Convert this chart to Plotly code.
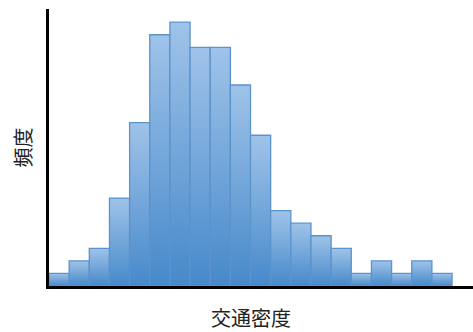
import plotly.graph_objects as go

# Histogram of traffic density: frequency per bin
bin_index = list(range(20))
frequency = [1, 2, 3, 7, 13, 20, 21, 19, 19, 16, 12, 6, 5, 4, 3, 1, 2, 1, 2, 1]

x_title = "交通密度"
y_title = "頻度"

bar_top = "#9fc3e9"
bar_bottom = "#4689ca"
bar_edge = "#5b93cd"

fig = go.Figure()

# each bin drawn as its own filled rectangle so it gets its own vertical gradient
for i, f in zip(bin_index, frequency):
    fig.add_trace(go.Scatter(
        x=[i, i, i + 1, i + 1, i],
        y=[0, f, f, 0, 0],
        mode="lines",
        fill="toself",
        fillgradient=dict(type="vertical",
                          colorscale=[[0, bar_bottom], [1, bar_top]]),
        line=dict(color=bar_edge, width=1.3),
        hoverinfo="skip",
        showlegend=False,
    ))

# x title centred under the bins rather than under the whole axis
fig.add_annotation(
    text=x_title, x=len(bin_index) / 2, xref="x",
    y=-0.112, yref="paper", yanchor="middle",
    showarrow=False, font=dict(size=20),
)

fig.update_layout(
    width=473, height=332,
    margin=dict(l=49, r=0, t=9, b=46),
    paper_bgcolor="white", plot_bgcolor="white",
    font=dict(family="Noto Sans CJK JP", color="#222222"),
    xaxis=dict(range=[0, 21.04], showgrid=False, zeroline=False,
               showticklabels=False, ticks="",
               showline=True, linecolor="black", linewidth=3),
    yaxis=dict(range=[0, 22.05], showgrid=False, zeroline=False,
               showticklabels=False, ticks="",
               showline=True, linecolor="black", linewidth=3,
               title=dict(text=y_title, font=dict(size=20), standoff=10)),
)

fig.write_html("out.html")
